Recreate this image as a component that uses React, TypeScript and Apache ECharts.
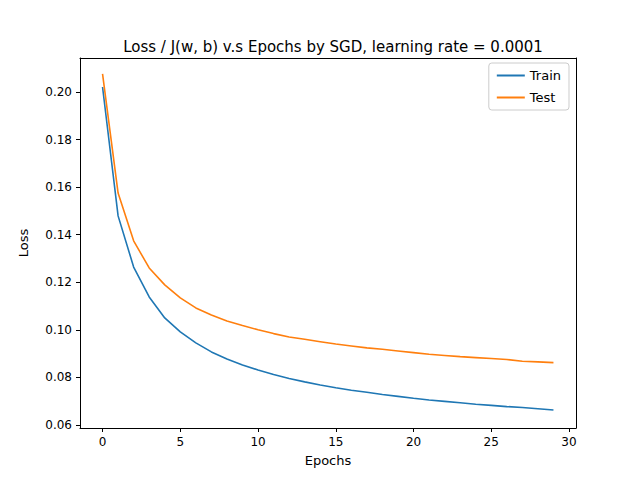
import React, { useEffect, useRef } from 'react';
import * as echarts from 'echarts';

const epochs = Array.from({ length: 30 }, (_, i) => i);
const trainLoss = [0.2021, 0.1479, 0.1264, 0.1138, 0.105, 0.0991, 0.0945, 0.0907, 0.0877, 0.0852,
  0.0831, 0.0812, 0.0795, 0.0781, 0.0768, 0.0756, 0.0746, 0.0737, 0.0728, 0.072,
  0.0712, 0.0705, 0.0699, 0.0693, 0.0687, 0.0682, 0.0677, 0.0673, 0.0668, 0.0663];
const testLoss = [0.2076, 0.1575, 0.1374, 0.126, 0.1189, 0.1134, 0.1092, 0.1062, 0.1037, 0.1018,
  0.1, 0.0984, 0.097, 0.096, 0.095, 0.094, 0.0932, 0.0924, 0.0918, 0.0911,
  0.0904, 0.0897, 0.0892, 0.0887, 0.0883, 0.0879, 0.0875, 0.0868, 0.0865, 0.0862];
const xTicks = [0, 5, 10, 15, 20, 25, 30];
const yTicks = [0.06, 0.08, 0.1, 0.12, 0.14, 0.16, 0.18, 0.2];

const font = 'DejaVu Sans';

export default function App() {
  const ref = useRef<HTMLDivElement>(null);

  useEffect(() => {
    if (!ref.current) return;
    const chart = echarts.init(ref.current, undefined, { renderer: 'svg' });
    const axisCommon = {
      axisLine: { show: true, onZero: false, lineStyle: { color: '#000', width: 1 } },
      axisTick: { show: true, inside: false, length: 4, lineStyle: { color: '#000' } },
      splitLine: { show: false },
      nameTextStyle: { color: '#000', fontSize: 13, fontFamily: font },
    };
    // top / right spines only
    const spine = {
      type: 'value',
      axisLine: { show: true, onZero: false, lineStyle: { color: '#000', width: 1 } },
      axisTick: { show: false }, axisLabel: { show: false }, splitLine: { show: false },
    };
    chart.setOption({
      animation: false,
      backgroundColor: '#fff',
      title: {
        text: 'Loss / J(w, b) v.s Epochs by SGD, learning rate = 0.0001',
        left: 328, top: 34, textAlign: 'center',
        textStyle: { fontSize: 15, fontWeight: 'normal', color: '#000', fontFamily: font },
      },
      legend: {
        orient: 'vertical', right: 71, top: 63,
        itemWidth: 28, itemHeight: 2, itemGap: 9,
        padding: [6, 8, 6, 8],
        borderColor: '#ccc', borderWidth: 1, borderRadius: 3,
        icon: 'rect',
        textStyle: { fontSize: 13, color: '#000', fontFamily: font },
        data: ['Train', 'Test'],
      },
      grid: { left: 80, right: 64, top: 58, bottom: 52 },
      xAxis: [{
        type: 'value', min: -1.45, max: 30.45,
        name: 'Epochs', nameLocation: 'middle', nameGap: 26,
        ...axisCommon,
        axisTick: { ...axisCommon.axisTick, customValues: xTicks },
        axisLabel: { customValues: xTicks, color: '#000', fontSize: 12, fontFamily: font },
      }, { ...spine, position: 'top', min: 0, max: 1 }],
      yAxis: [{
        type: 'value', min: 0.0587, max: 0.2143,
        name: 'Loss', nameLocation: 'middle', nameGap: 50,
        ...axisCommon,
        axisTick: { ...axisCommon.axisTick, customValues: yTicks },
        axisLabel: {
          customValues: yTicks, color: '#000', fontSize: 12, fontFamily: font,
          formatter: (v: number) => v.toFixed(2),
        },
      }, { ...spine, position: 'right', min: 0, max: 1 }],
      series: [
        {
          name: 'Train', type: 'line', showSymbol: false, symbol: 'none',
          data: epochs.map((e, i) => [e, trainLoss[i]]),
          lineStyle: { color: '#1f77b4', width: 1.6 }, itemStyle: { color: '#1f77b4' },
        },
        {
          name: 'Test', type: 'line', showSymbol: false, symbol: 'none',
          data: epochs.map((e, i) => [e, testLoss[i]]),
          lineStyle: { color: '#ff7f0e', width: 1.6 }, itemStyle: { color: '#ff7f0e' },
        },
      ],
    });
    return () => chart.dispose();
  }, []);

  return <div ref={ref} style={{ width: 640, height: 480, margin: -8 }} />;
}
